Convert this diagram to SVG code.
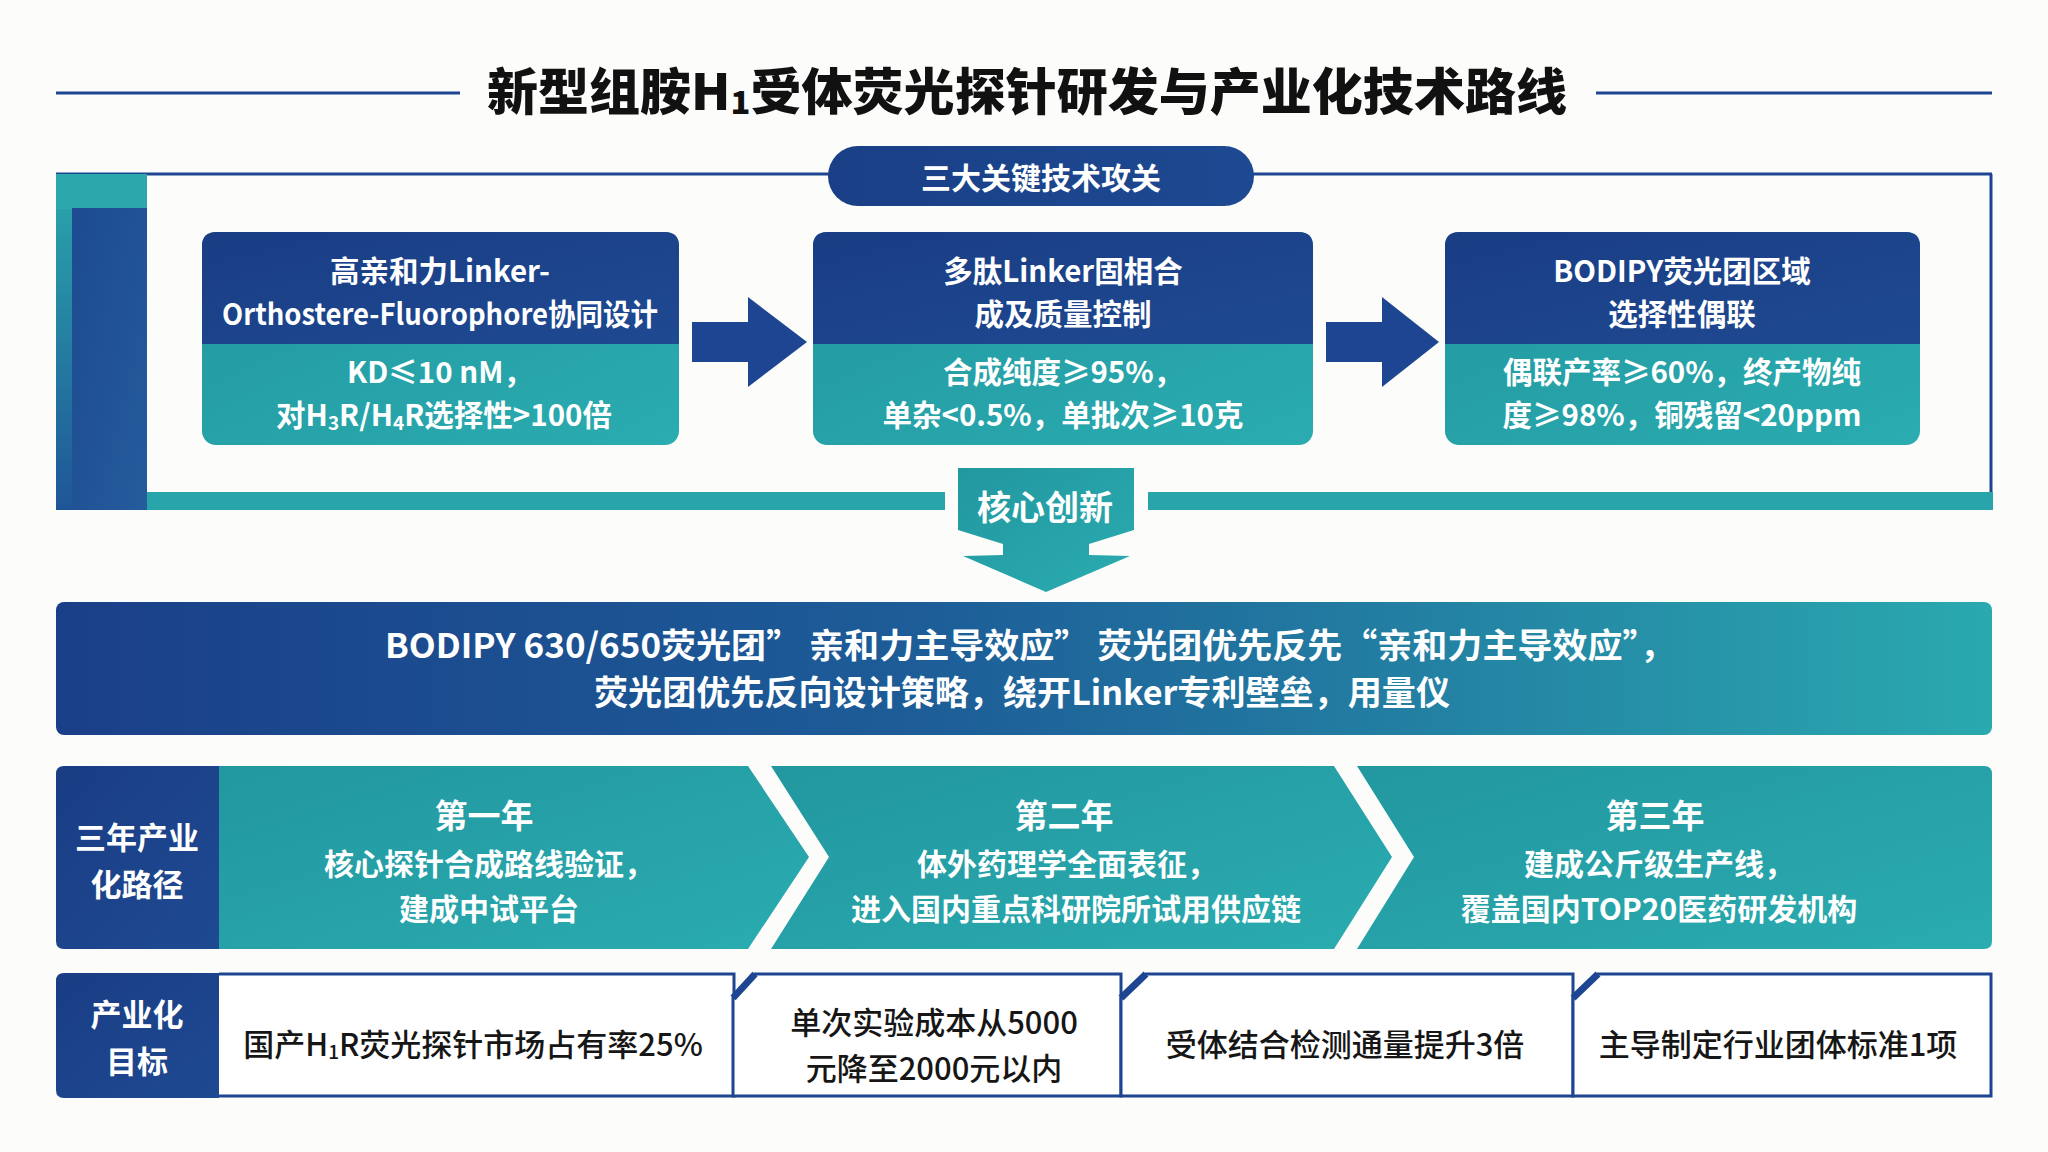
<svg xmlns="http://www.w3.org/2000/svg" width="2048" height="1152" viewBox="0 0 2048 1152">
<style>
text{font-family:'Noto Sans CJK SC','Noto Sans',sans-serif;text-anchor:middle;dominant-baseline:central}
.title{font-size:50px;font-weight:900;fill:#111}
.w{fill:#fff;font-weight:700}
.hd{font-size:29.5px}
.bd{font-size:29.5px}
.yr{font-size:33px}
.tl{font-size:30px}
.lb{font-size:31px}
.k{fill:#161616;font-size:31px;font-weight:500}
.navyline{stroke:#1d4591;stroke-width:3;fill:none}
.cell{fill:#fff;stroke:#1d4591;stroke-width:3}
.cham{stroke:#1d4591;stroke-width:7;stroke-linecap:butt}
</style>
<defs>
<linearGradient id="gNavy" x1="0" y1="0" x2="1" y2="1">
<stop offset="0" stop-color="#1a3d84"/><stop offset="1" stop-color="#1e4a92"/>
</linearGradient>
<linearGradient id="gTeal" x1="0" y1="0" x2="1" y2="1">
<stop offset="0" stop-color="#22979f"/><stop offset="1" stop-color="#2aacb0"/>
</linearGradient>
<linearGradient id="gBanner" x1="0" y1="0" x2="1" y2="0">
<stop offset="0" stop-color="#1a3f88"/><stop offset="0.45" stop-color="#1d5d98"/><stop offset="1" stop-color="#2aa9af"/>
</linearGradient>
<linearGradient id="gStrip" x1="0" y1="0" x2="0" y2="1">
<stop offset="0" stop-color="#2aa8ac"/><stop offset="1" stop-color="#1f5597"/>
</linearGradient>
<linearGradient id="gInner" x1="0" y1="0" x2="1" y2="1">
<stop offset="0" stop-color="#1d4a90"/><stop offset="1" stop-color="#245c9c"/>
</linearGradient>
<linearGradient id="gPill" x1="0" y1="0" x2="1" y2="0">
<stop offset="0" stop-color="#1a3f86"/><stop offset="1" stop-color="#1d4a92"/>
</linearGradient>
</defs>
<rect x="0" y="0" width="2048" height="1152" fill="#fcfcfa"/>

<g id="title">
<line class="navyline" x1="56" y1="93" x2="460" y2="93"/>
<line class="navyline" x1="1596" y1="93" x2="1992" y2="93"/>
<text class="title" x="1027" y="88" textLength="1080" lengthAdjust="spacingAndGlyphs">新型组胺H<tspan font-size="32" dy="12">1</tspan><tspan dy="-12">受体荧光探针研发与产业化技术路线</tspan></text>
</g>

<g id="frame">
<line class="navyline" x1="56" y1="174" x2="1992" y2="174"/>
<line class="navyline" x1="1991" y1="174" x2="1991" y2="494"/>
<rect x="56" y="174" width="91" height="336" fill="url(#gStrip)"/>
<rect x="56" y="174" width="91" height="35" fill="#2aa8ac"/>
<rect x="72" y="208" width="75" height="302" fill="url(#gInner)"/>
<rect x="147" y="492" width="798" height="18" fill="#27a5aa"/>
<rect x="1148" y="492" width="845" height="18" fill="#27a5aa"/>
</g>

<g id="node-pill">
<rect x="828" y="146" width="426" height="60" rx="30" fill="url(#gPill)"/>
<text class="w" x="1041" y="176" font-size="30">三大关键技术攻关</text>
</g>

<g id="node-box1">
<rect x="202" y="232" width="477" height="213" rx="14" fill="url(#gTeal)"/>
<path d="M202,344 V246 Q202,232 216,232 H665 Q679,232 679,246 V344 Z" fill="url(#gNavy)"/>
<text class="w hd" x="440" y="269">高亲和力Linker-</text>
<text class="w hd" x="440" y="312" textLength="436" lengthAdjust="spacingAndGlyphs">Orthostere-Fluorophore协同设计</text>
<text class="w bd" x="440" y="370">KD≤10 nM，</text>
<text class="w bd" x="444" y="413">对H<tspan font-size="19" dy="8">3</tspan><tspan dy="-8">R/H</tspan><tspan font-size="19" dy="8">4</tspan><tspan dy="-8">R选择性&gt;100倍</tspan></text>
</g>

<g id="node-box2">
<rect x="813" y="232" width="500" height="213" rx="14" fill="url(#gTeal)"/>
<path d="M813,344 V246 Q813,232 827,232 H1299 Q1313,232 1313,246 V344 Z" fill="url(#gNavy)"/>
<text class="w hd" x="1063" y="269">多肽Linker固相合</text>
<text class="w hd" x="1063" y="312">成及质量控制</text>
<text class="w bd" x="1063" y="370">合成纯度≥95%，</text>
<text class="w bd" x="1063" y="413">单杂&lt;0.5%，单批次≥10克</text>
</g>

<g id="node-box3">
<rect x="1445" y="232" width="475" height="213" rx="14" fill="url(#gTeal)"/>
<path d="M1445,344 V246 Q1445,232 1459,232 H1906 Q1920,232 1920,246 V344 Z" fill="url(#gNavy)"/>
<text class="w hd" x="1682" y="269">BODIPY荧光团区域</text>
<text class="w hd" x="1682" y="312">选择性偶联</text>
<text class="w bd" x="1682" y="370">偶联产率≥60%，终产物纯</text>
<text class="w bd" x="1682" y="413">度≥98%，铜残留&lt;20ppm</text>
</g>

<g id="connectors">
<polygon points="692,322 748,322 748,297 807,342 748,387 748,362 692,362" fill="#1d4591"/>
<polygon points="1326,322 1382,322 1382,297 1439,342 1382,387 1382,362 1326,362" fill="#1d4591"/>
</g>

<g id="node-core">
<polygon points="958,468 1134,468 1134,530 1089,544 1089,555 1130,556 1046,592 963,556 1003,555 1003,544 958,530" fill="url(#gTeal)"/>
<text class="w" x="1045" y="505" font-size="34">核心创新</text>
</g>

<g id="node-banner">
<rect x="56" y="602" width="1936" height="133" rx="8" fill="url(#gBanner)"/>
<text class="w" x="1030" y="643" font-size="34" textLength="1290" lengthAdjust="spacingAndGlyphs">BODIPY 630/650荧光团” 亲和力主导效应” 荧光团优先反先“亲和力主导效应”，</text>
<text class="w" x="1022" y="690" font-size="34" textLength="856" lengthAdjust="spacingAndGlyphs">荧光团优先反向设计策略，绕开Linker专利壁垒，用量仪</text>
</g>

<g id="node-path-label">
<path d="M219,766 V949 H64 Q56,949 56,941 V774 Q56,766 64,766 Z" fill="url(#gNavy)"/>
<text class="w lb" x="137" y="835">三年产业</text>
<text class="w lb" x="137" y="882">化路径</text>
</g>

<g id="node-year1">
<polygon points="219,766 748,766 809,857 748,949 219,949" fill="url(#gTeal)"/>
<text class="w yr" x="484" y="814">第一年</text>
<text class="w tl" x="489" y="862">核心探针合成路线验证，</text>
<text class="w tl" x="489" y="907">建成中试平台</text>
</g>

<g id="node-year2">
<polygon points="771,766 1334,766 1392,857 1334,949 771,949 829,857" fill="url(#gTeal)"/>
<text class="w yr" x="1064" y="814">第二年</text>
<text class="w tl" x="1067" y="862">体外药理学全面表征，</text>
<text class="w tl" x="1076" y="907">进入国内重点科研院所试用供应链</text>
</g>

<g id="node-year3">
<path d="M1357,766 H1984 Q1992,766 1992,774 V941 Q1992,949 1984,949 H1357 L1414,857 Z" fill="url(#gTeal)"/>
<text class="w yr" x="1655" y="814">第三年</text>
<text class="w tl" x="1659" y="862">建成公斤级生产线，</text>
<text class="w tl" x="1659" y="907">覆盖国内TOP20医药研发机构</text>
</g>

<g id="node-goal-label">
<path d="M219,973 V1098 H64 Q56,1098 56,1090 V981 Q56,973 64,973 Z" fill="url(#gNavy)"/>
<text class="w lb" x="137" y="1012">产业化</text>
<text class="w lb" x="137" y="1059">目标</text>
</g>

<g id="node-goal1">
<path class="cell" d="M219,974 H734 V1096 H219"/>
<text class="k" x="473" y="1042">国产H<tspan font-size="19" dy="8">1</tspan><tspan dy="-8">R荧光探针市场占有率25%</tspan></text>
</g>

<g id="node-goal2">
<path class="cell" d="M733,998 L755,974 H1121 V1096 H733 Z"/>
<line class="cham" x1="733" y1="998" x2="755" y2="974"/>
<text class="k" x="934" y="1020">单次实验成本从5000</text>
<text class="k" x="934" y="1066">元降至2000元以内</text>
</g>

<g id="node-goal3">
<path class="cell" d="M1121,998 L1146,974 H1573 V1096 H1121 Z"/>
<line class="cham" x1="1121" y1="998" x2="1146" y2="974"/>
<text class="k" x="1345" y="1042">受体结合检测通量提升3倍</text>
</g>

<g id="node-goal4">
<path class="cell" d="M1573,998 L1598,974 H1991 V1096 H1573 Z"/>
<line class="cham" x1="1573" y1="998" x2="1598" y2="974"/>
<text class="k" x="1778" y="1042">主导制定行业团体标准1项</text>
</g>
</svg>
